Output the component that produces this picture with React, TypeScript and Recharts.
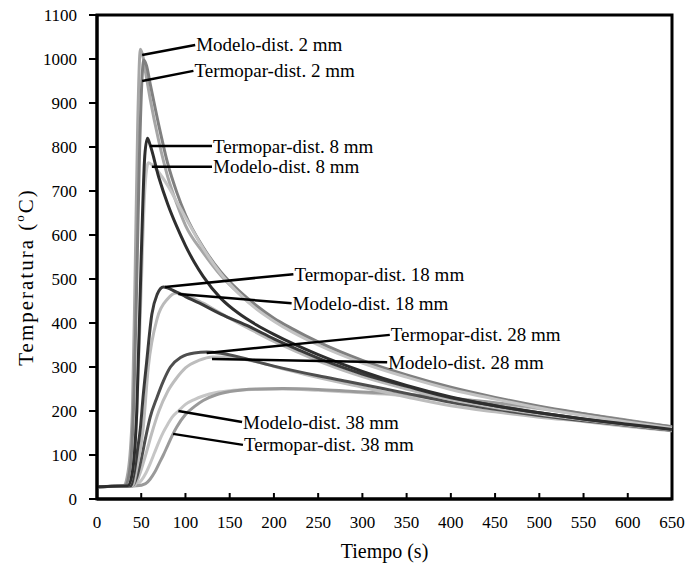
import React from "react";
import {
  LineChart,
  Line,
  XAxis,
  YAxis,
  ReferenceLine,
  ReferenceDot,
  ReferenceArea,
} from "recharts";

// [tiempo (s), temperatura (ºC)]
const MODELO_2 = [
  [0, 28], [30, 30], [35, 60], [40, 200], [43, 500], [46, 850], [49, 1022],
  [52, 1005], [55, 968], [60, 910], [70, 812], [80, 732], [90, 672],
  [100, 622], [120, 560], [140, 508], [160, 468], [180, 434], [200, 406],
  [220, 383], [250, 353], [300, 311], [350, 279], [400, 251], [450, 229],
  [500, 209], [550, 192], [600, 176], [650, 162],
];
const TERMOPAR_2 = [
  [0, 28], [32, 30], [38, 80], [42, 250], [45, 500], [48, 780], [51, 960],
  [53, 998], [56, 985], [60, 945], [70, 848], [80, 762], [90, 698],
  [100, 646], [120, 572], [140, 516], [160, 474], [180, 440], [200, 411],
  [220, 388], [250, 357], [300, 315], [350, 282], [400, 254], [450, 231],
  [500, 211], [550, 194], [600, 178], [650, 164],
];
const TERMOPAR_8 = [
  [0, 28], [35, 30], [40, 60], [45, 200], [50, 550], [54, 780], [57, 820],
  [60, 805], [70, 730], [80, 670], [90, 620], [100, 576], [110, 538],
  [120, 506], [140, 456], [160, 422], [180, 396], [200, 374], [250, 328],
  [300, 290], [350, 258], [400, 232], [450, 212], [500, 196], [550, 182],
  [600, 170], [650, 158],
];
const MODELO_8 = [
  [0, 28], [35, 30], [40, 60], [45, 200], [50, 480], [54, 700], [58, 764],
  [62, 760], [70, 742], [80, 712], [90, 676], [100, 640], [120, 570],
  [140, 512], [160, 468], [180, 432], [200, 404], [220, 380], [250, 350],
  [300, 309], [350, 277], [400, 249], [450, 227], [500, 207], [550, 190],
  [600, 175], [650, 161],
];
const TERMOPAR_18 = [
  [0, 28], [38, 30], [42, 60], [46, 115], [49, 160], [52, 230], [56, 309],
  [62, 420], [68, 465], [75, 482], [90, 470], [100, 460], [116, 445],
  [140, 420], [173, 391], [200, 364], [229, 338], [260, 312], [300, 284],
  [350, 256], [400, 230], [450, 212], [500, 196], [550, 182], [600, 170],
  [650, 159],
];
const MODELO_18 = [
  [0, 28], [40, 30], [45, 70], [52, 157], [58, 300], [68, 410], [80, 455],
  [90, 468], [100, 464], [120, 445], [140, 422], [173, 386], [200, 358],
  [229, 332], [260, 306], [300, 278], [350, 250], [400, 226], [450, 208],
  [500, 193], [550, 180], [600, 168], [650, 157],
];
const TERMOPAR_28 = [
  [0, 28], [40, 30], [45, 50], [50, 90], [55, 140], [60, 185], [68, 232],
  [75, 268], [83, 300], [95, 322], [110, 332], [124, 334], [140, 331],
  [160, 323], [173, 316], [200, 302], [250, 280], [286, 266], [350, 240],
  [400, 220], [450, 204], [500, 190], [550, 178], [600, 167], [650, 156],
];
const MODELO_28 = [
  [0, 28], [42, 30], [48, 55], [55, 100], [62, 150], [70, 200], [80, 245],
  [90, 275], [100, 298], [115, 315], [131, 323], [150, 322], [175, 314],
  [210, 296], [250, 276], [300, 254], [350, 232], [400, 212], [450, 198],
  [500, 186], [550, 176], [600, 165], [650, 155],
];
const TERMOPAR_38 = [
  [0, 28], [45, 30], [55, 35], [60, 45], [65, 60], [70, 80], [75, 100],
  [80, 122], [86, 148], [90, 163], [100, 192], [110, 210], [120, 224],
  [135, 237], [150, 244], [180, 250], [210, 251], [250, 249], [286, 245],
  [350, 238], [400, 229], [450, 219], [500, 207], [550, 194], [600, 179],
  [650, 164],
];
const MODELO_38 = [
  [0, 28], [42, 30], [50, 42], [55, 58], [60, 80], [65, 105], [70, 130],
  [75, 152], [80, 170], [85, 186], [92, 200], [100, 215], [110, 226],
  [120, 234], [135, 242], [150, 246], [180, 249], [210, 250], [250, 247],
  [286, 243], [350, 235], [400, 227], [450, 217], [500, 205], [550, 192],
  [600, 177], [650, 162],
];

const X_TICKS = [0, 50, 100, 150, 200, 250, 300, 350, 400, 450, 500, 550, 600, 650];
const Y_TICKS = [0, 100, 200, 300, 400, 500, 600, 700, 800, 900, 1000, 1100];

const SERIES = [
  { name: "Modelo-dist. 38 mm", points: MODELO_38, color: "#c6c6c6" },
  { name: "Termopar-dist. 38 mm", points: TERMOPAR_38, color: "#9a9a9a" },
  { name: "Modelo-dist. 28 mm", points: MODELO_28, color: "#bdbdbd" },
  { name: "Termopar-dist. 28 mm", points: TERMOPAR_28, color: "#4e4e4e" },
  { name: "Modelo-dist. 18 mm", points: MODELO_18, color: "#bababa" },
  { name: "Termopar-dist. 18 mm", points: TERMOPAR_18, color: "#3a3a3a" },
  { name: "Modelo-dist. 2 mm", points: MODELO_2, color: "#a6a6a6" },
  { name: "Termopar-dist. 2 mm", points: TERMOPAR_2, color: "#808080" },
  { name: "Modelo-dist. 8 mm", points: MODELO_8, color: "#c4c4c4" },
  { name: "Termopar-dist. 8 mm", points: TERMOPAR_8, color: "#2e2e2e" },
];

// leader line: from point on curve to start of the label text
const CALLOUTS = [
  { text: "Modelo-dist. 2 mm", from: [51, 1009], to: [111, 1032] },
  { text: "Termopar-dist. 2 mm", from: [51, 950], to: [109, 973] },
  { text: "Termopar-dist. 8 mm", from: [60, 802], to: [130, 802] },
  { text: "Modelo-dist. 8 mm", from: [62, 755], to: [130, 755] },
  { text: "Termopar-dist. 18 mm", from: [77, 482], to: [222, 511] },
  { text: "Modelo-dist. 18 mm", from: [92, 466], to: [220, 445] },
  { text: "Termopar-dist. 28 mm", from: [124, 332], to: [331, 373] },
  { text: "Modelo-dist. 28 mm", from: [130, 318], to: [328, 311] },
  { text: "Modelo-dist. 38 mm", from: [92, 200], to: [164, 175] },
  { text: "Termopar-dist. 38 mm", from: [86, 148], to: [165, 123] },
];

const FONT = '"Liberation Serif", "Times New Roman", serif';

function XTick(props: any) {
  const { x, y, payload } = props;
  const axisY = y - 10;
  return (
    <g>
      <line x1={x} y1={axisY} x2={x} y2={axisY - 6} stroke="#000" strokeWidth={2} />
      <text x={x} y={axisY + 29} textAnchor="middle" fontFamily={FONT} fontSize={17} fill="#000">
        {payload.value}
      </text>
    </g>
  );
}

function YTitle(props: any) {
  const vb = props.viewBox || { x: 0, y: 15, width: 97, height: 484 };
  const cx = 26;
  const cy = vb.y + vb.height / 2 + 20;
  return (
    <text
      x={cx}
      y={cy}
      transform={`rotate(-90, ${cx}, ${cy})`}
      textAnchor="middle"
      dominantBaseline="central"
      fontFamily={FONT}
      fontSize={21}
      letterSpacing={2}
      fill="#000"
    >
      Temperatura {"  ("}
      <tspan fontSize={13} dy={-7}>o</tspan>
      <tspan dy={7}>C)</tspan>
    </text>
  );
}

export default function App() {
  return (
    <div style={{ position: "absolute", left: 0, top: 0, background: "#fff" }}>
      <LineChart
        width={687}
        height={566}
        margin={{ top: 15, right: 15, bottom: 0, left: 0 }}
      >
        <ReferenceArea
          x1={0}
          x2={650}
          y1={0}
          y2={1100}
          fill="none"
          stroke="#000"
          strokeWidth={3}
          ifOverflow="visible"
        />
        <XAxis
          dataKey="t"
          type="number"
          domain={[0, 650]}
          ticks={X_TICKS}
          interval={0}
          height={67}
          tickSize={6}
          tickMargin={4}
          tickLine={false}
          axisLine={{ stroke: "#000", strokeWidth: 3 }}
          tick={<XTick />}
          label={{
            value: "Tiempo (s)",
            position: "insideBottom",
            offset: 8,
            fill: "#000",
            fontSize: 20,
            fontFamily: FONT,
          }}
        />
        <YAxis
          type="number"
          domain={[0, 1100]}
          ticks={Y_TICKS}
          interval={0}
          width={97}
          tickSize={8}
          tickMargin={12}
          tickLine={{ stroke: "#000", strokeWidth: 2 }}
          axisLine={{ stroke: "#000", strokeWidth: 3 }}
          tick={{ fill: "#000", fontSize: 17, fontFamily: FONT }}
          label={<YTitle />}
        />
        {SERIES.map((s) => (
          <Line
            key={s.name}
            data={s.points.map(([t, v]) => ({ t, v }))}
            dataKey="v"
            name={s.name}
            type="monotone"
            stroke={s.color}
            strokeWidth={3}
            dot={false}
            isAnimationActive={false}
          />
        ))}
        {CALLOUTS.map((c) => (
          <ReferenceLine
            key={c.text + "-line"}
            segment={[
              { x: c.from[0], y: c.from[1] },
              { x: c.to[0], y: c.to[1] },
            ]}
            stroke="#000"
            strokeWidth={2.5}
            ifOverflow="visible"
          />
        ))}
        {CALLOUTS.map((c) => (
          <ReferenceDot
            key={c.text + "-text"}
            x={c.to[0]}
            y={c.to[1]}
            r={0}
            ifOverflow="visible"
            shape={(p: any) => (
              <text
                x={p.cx + 1}
                y={p.cy}
                dominantBaseline="central"
                fontFamily={FONT}
                fontSize={19}
                fill="#000"
              >
                {c.text}
              </text>
            )}
          />
        ))}
      </LineChart>
    </div>
  );
}
